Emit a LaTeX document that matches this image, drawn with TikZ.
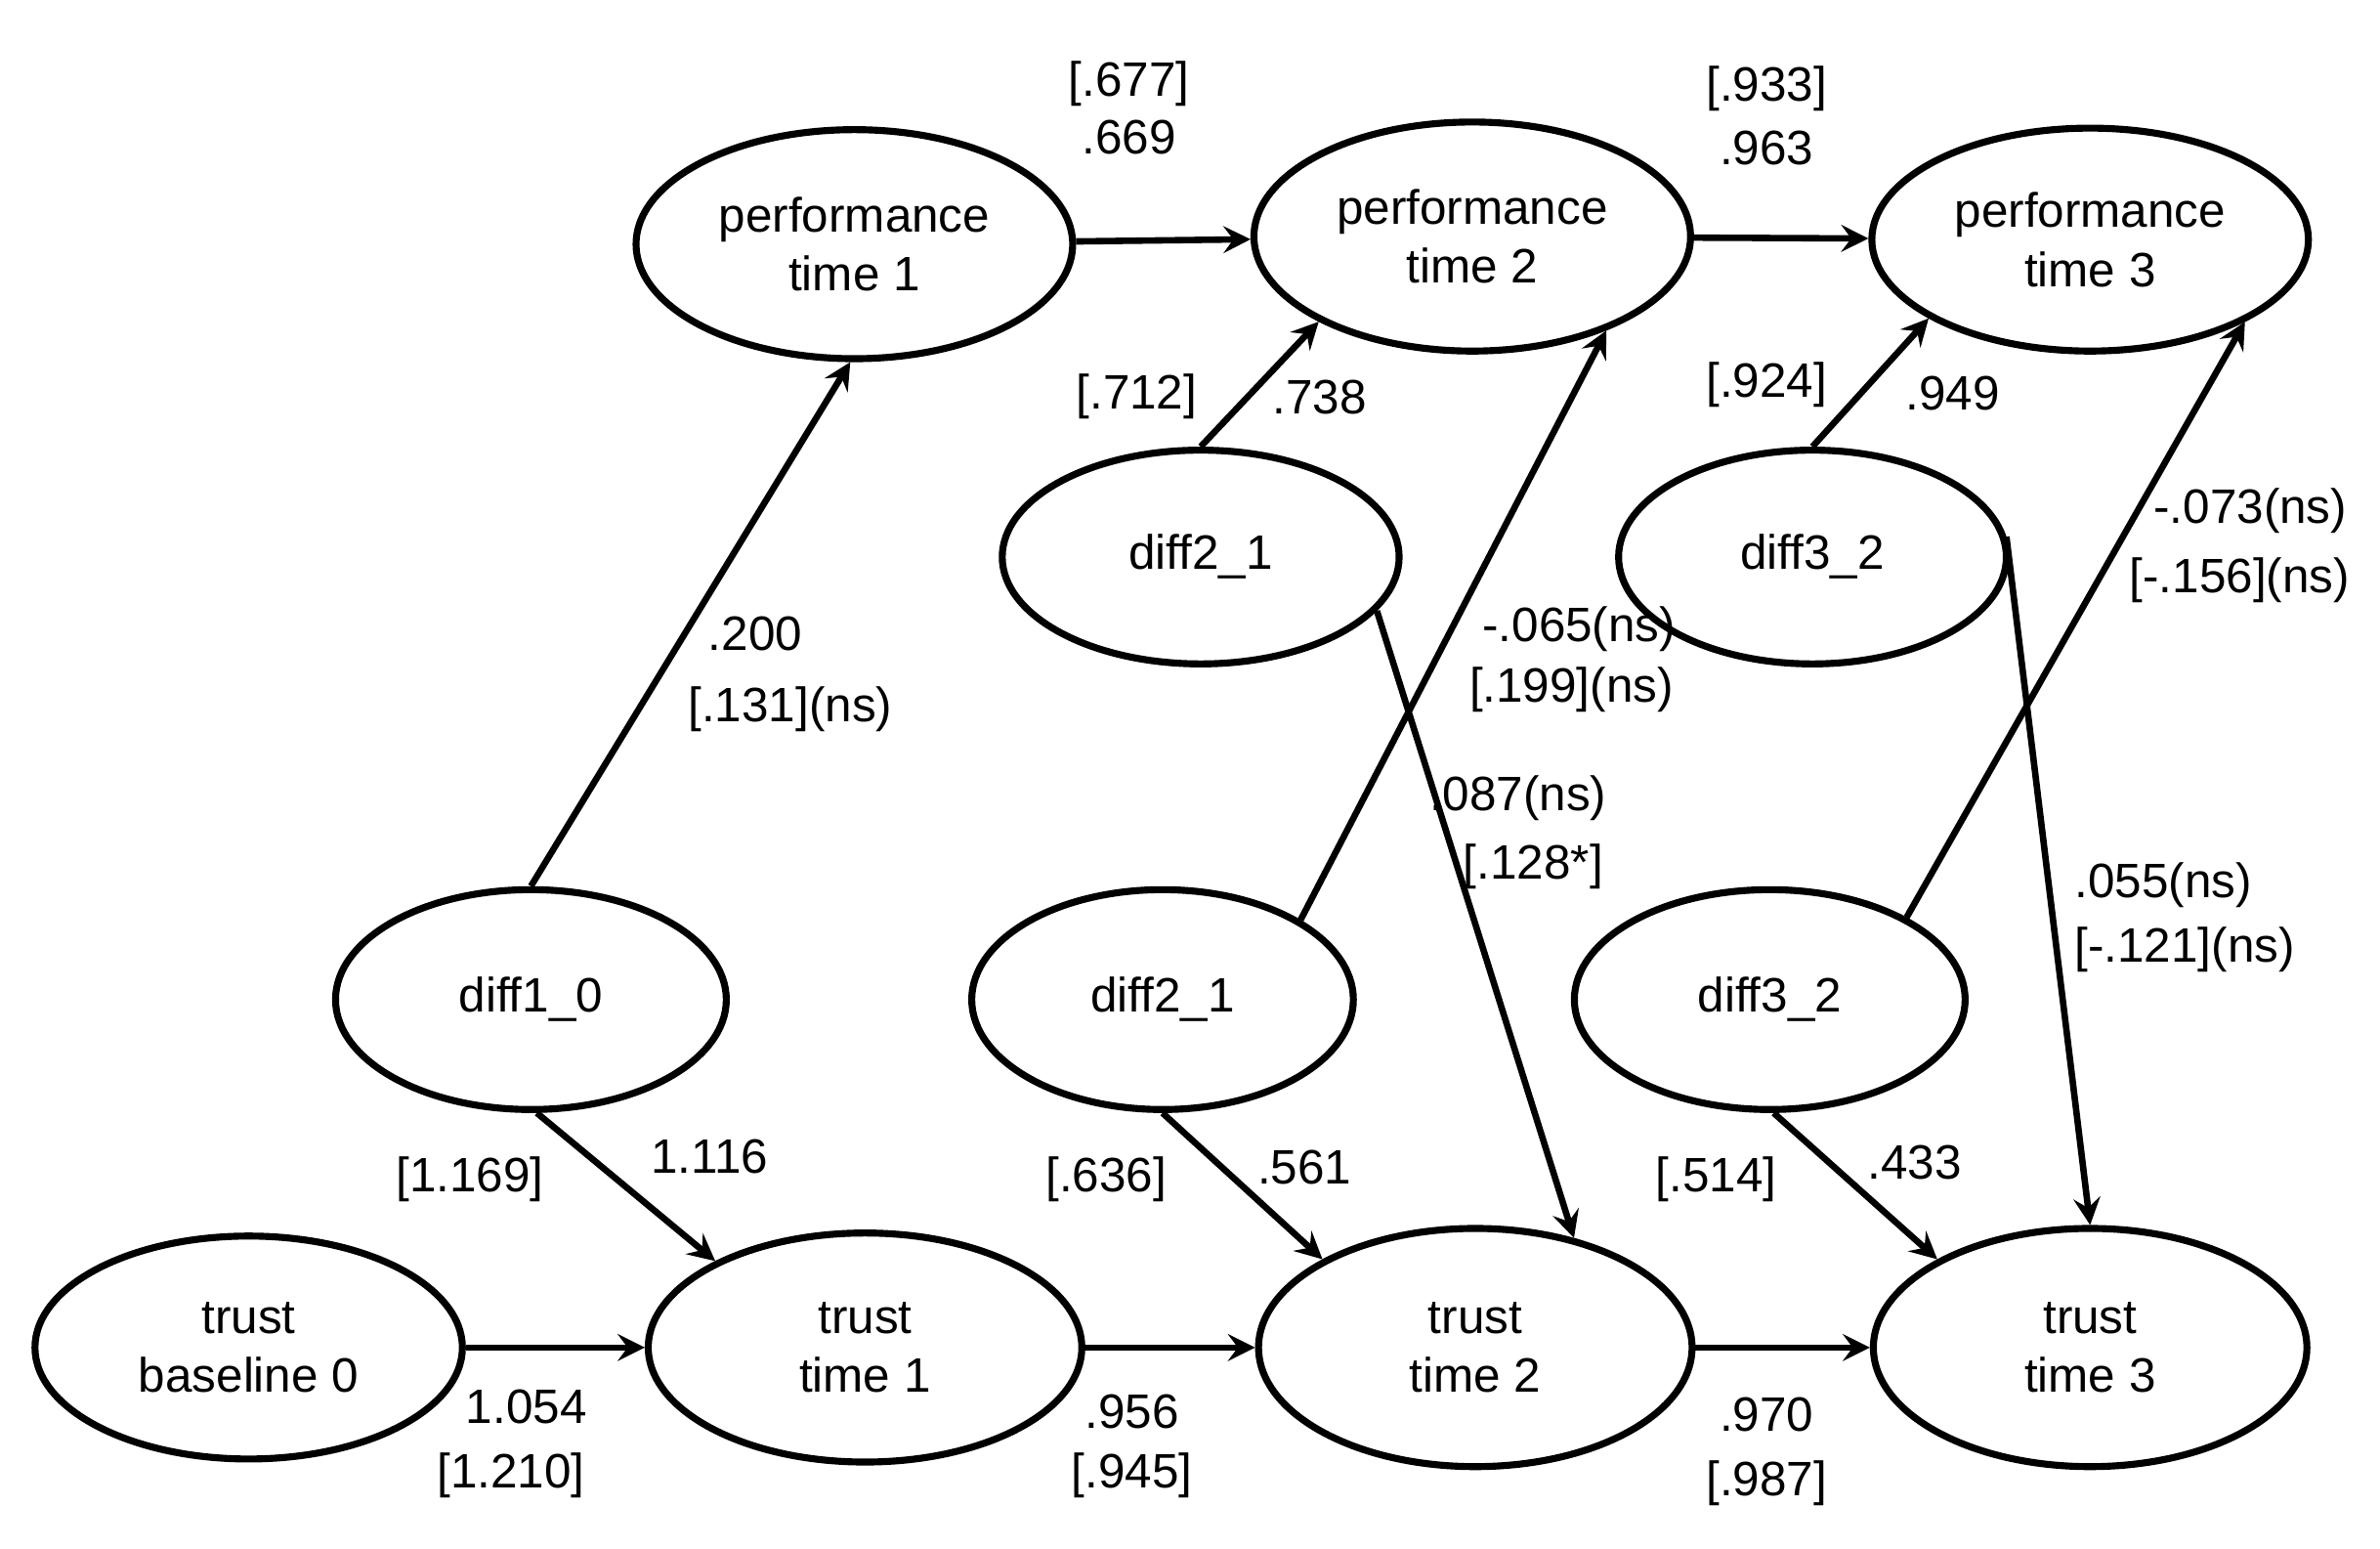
\documentclass[tikz,border=0pt]{standalone}
\usepackage{fontspec}
\setmainfont{Liberation Sans}
\usetikzlibrary{shapes.geometric}
\begin{document}
\begin{tikzpicture}[x=0.01cm,y=-0.01cm,
  el/.style={draw,line width=1.3pt,ellipse,inner sep=0pt,minimum width=#1,align=center,font=\fontsize{9}{11}\selectfont},
  ar/.style={->,>=stealth,line width=1.2pt},
  lb/.style={font=\fontsize{9}{11}\selectfont,inner sep=0pt}]
\useasboundingbox (0,0) rectangle (1560,1015);
\node[el=2.86cm,minimum height=1.5cm] (p1) at (560,160) {performance\\time 1};
\node[el=2.86cm,minimum height=1.5cm] (p2) at (965,155) {performance\\time 2};
\node[el=2.86cm,minimum height=1.46cm] (p3) at (1370,157) {performance\\time 3};
\node[el=2.6cm,minimum height=1.4cm] (d21t) at (787,365) {diff2\_1};
\node[el=2.54cm,minimum height=1.4cm] (d32t) at (1188,365) {diff3\_2};
\node[el=2.56cm,minimum height=1.44cm] (d10) at (348,655) {diff1\_0};
\node[el=2.5cm,minimum height=1.44cm] (d21b) at (762,655) {diff2\_1};
\node[el=2.56cm,minimum height=1.44cm] (d32b) at (1160,655) {diff3\_2};
\node[el=2.8cm,minimum height=1.46cm] (t0) at (163,883) {trust\\baseline 0};
\node[el=2.84cm,minimum height=1.5cm] (t1) at (567,883) {trust\\time 1};
\node[el=2.84cm,minimum height=1.56cm] (t2) at (967,883) {trust\\time 2};
\node[el=2.84cm,minimum height=1.56cm] (t3) at (1370,883) {trust\\time 3};
\draw[ar] (p1) -- (p2);
\draw[ar] (p2) -- (p3);
\draw[ar] (t0) -- (t1);
\draw[ar] (t1) -- (t2);
\draw[ar] (t2) -- (t3);
\draw[ar] (d10.90) -- (p1.-92);
\draw[ar] (d21t.90) -- (p2.-151);
\draw[ar] (d32t.90) -- (p3.-154);
\draw[ar] (d21t.-17) -- (t2.48);
\draw[ar] (d32t.6) -- (t3.90);
\draw[ar] (d21b.30) -- (p2.-35);
\draw[ar] (d32b.31) -- (p3.-28);
\draw[ar] (d10.-87) -- (t1.150);
\draw[ar] (d21b.-90) -- (t2.150);
\draw[ar] (d32b.-88) -- (t3.150);
\node[lb] (l1) at (740,55) {[.677]};
\node[lb] (l2) at (740,90) {.669};
\node[lb] (l3) at (1158,58) {[.933]};
\node[lb] (l4) at (1158,97) {.963};
\node[lb] (l5) at (745,260) {[.712]};
\node[lb] (l6) at (865,260) {.738};
\node[lb] (l7) at (1158,252) {[.924]};
\node[lb] (l8) at (1280,258) {.949};
\node[lb] (l9) at (495,415) {.200};
\node[lb] (l10) at (518,465) {[.131](ns)};
\node[lb] (l11) at (1035,412) {-.065(ns)};
\node[lb] (l12) at (1030,452) {[.199](ns)};
\node[lb] (l13) at (995,523) {.087(ns)};
\node[lb] (l14) at (1005,568) {[.128*]};
\node[lb] (l15) at (1475,335) {-.073(ns)};
\node[lb] (l16) at (1468,380) {[-.156](ns)};
\node[lb] (l17) at (1418,580) {.055(ns)};
\node[lb] (l18) at (1432,622) {[-.121](ns)};
\node[lb] (l19) at (308,773) {[1.169]};
\node[lb] (l20) at (465,758) {1.116};
\node[lb] (l21) at (725,773) {[.636]};
\node[lb] (l22) at (855,765) {.561};
\node[lb] (l23) at (1125,773) {[.514]};
\node[lb] (l24) at (1255,762) {.433};
\node[lb] (l25) at (345,922) {1.054};
\node[lb] (l26) at (335,967) {[1.210]};
\node[lb] (l27) at (742,925) {.956};
\node[lb] (l28) at (742,967) {[.945]};
\node[lb] (l29) at (1158,927) {.970};
\node[lb] (l30) at (1158,972) {[.987]};
\end{tikzpicture}
\end{document}
